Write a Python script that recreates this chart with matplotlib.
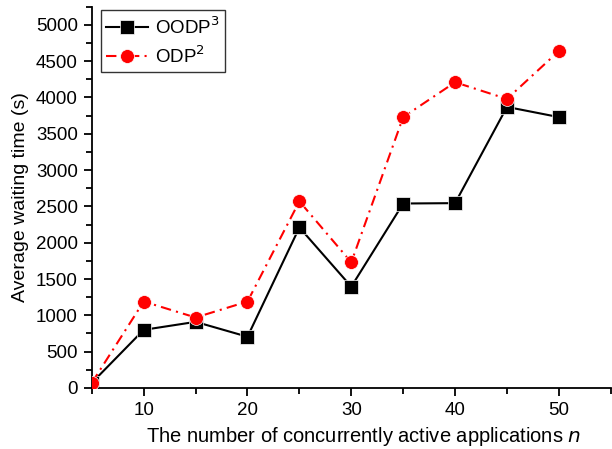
import matplotlib.pyplot as plt
from matplotlib.ticker import MultipleLocator

plt.rcParams["font.family"] = ["Liberation Sans", "DejaVu Sans"]

# data
n_apps = [5, 10, 15, 20, 25, 30, 35, 40, 45, 50]
oodp3 = [70, 800, 910, 705, 2210, 1395, 2540, 2545, 3870, 3730]
odp2 = [70, 1190, 970, 1190, 2570, 1730, 3730, 4210, 3980, 4640]

fig = plt.figure(figsize=(6.12, 4.49), dpi=100)
ax = fig.add_axes([0.150, 0.136, 0.848, 0.849])

ax.plot(n_apps, odp2, color="red", linestyle=(0, (5, 2.5, 1, 2.5)), linewidth=1.5,
        marker="o", markersize=10, markeredgecolor="white", markeredgewidth=0.5,
        label="ODP$^2$", zorder=3)
ax.plot(n_apps, oodp3, color="black", linestyle="-", linewidth=1.5,
        marker="s", markersize=10, markeredgecolor="white", markeredgewidth=0.5,
        label="OODP$^3$", zorder=2)

ax.set_xlim(5, 55)
ax.set_ylim(0, 5250)
ax.xaxis.set_major_locator(MultipleLocator(10))
ax.xaxis.set_minor_locator(MultipleLocator(5))
ax.yaxis.set_major_locator(MultipleLocator(500))
ax.yaxis.set_minor_locator(MultipleLocator(250))

for side in ["top", "right"]:
    ax.spines[side].set_visible(False)
for side in ["left", "bottom"]:
    ax.spines[side].set_linewidth(1.3)

ax.tick_params(which="major", direction="out", length=6, width=1.3, labelsize=13.5, pad=4)
ax.tick_params(which="minor", direction="out", length=4, width=1.3)

ax.set_xlabel("The number of concurrently active applications $n$", fontsize=14.5)
ax.xaxis.set_label_coords(0.523, -0.098)
ax.set_ylabel("Average waiting time (s)", fontsize=14, labelpad=5)

handles, labels = ax.get_legend_handles_labels()
leg = ax.legend(handles[::-1], labels[::-1], loc="upper left",
                bbox_to_anchor=(0.01, 1.0), fontsize=13.5, frameon=True,
                fancybox=False, edgecolor="black", handlelength=2.2,
                handletextpad=0.4, borderpad=0.3, labelspacing=0.4,
                borderaxespad=0.2)
leg.get_frame().set_linewidth(1.0)

fig.savefig("out.png", dpi=100)
